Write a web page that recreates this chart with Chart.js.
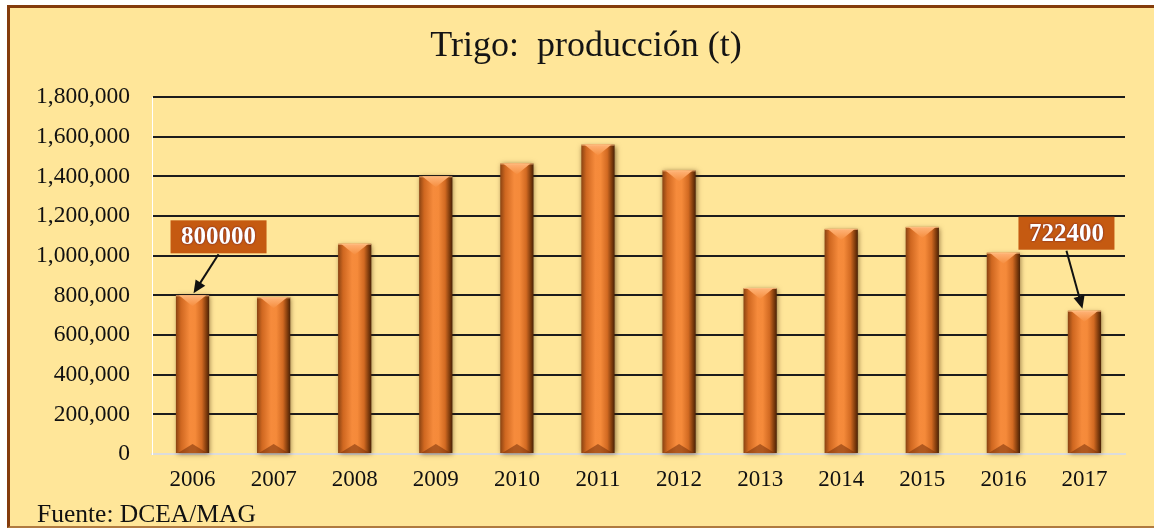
<!DOCTYPE html>
<html>
<head>
<meta charset="utf-8">
<script src="https://cdn.jsdelivr.net/npm/chart.js@4"></script>
<style>
  body { margin: 0; background: #fff; }
  #frame {
    position: absolute; left: 7px; top: 5px; width: 1160px; height: 518px;
    background: #FFE699; border-left: 3px solid #843C0C; border-top: 3px solid #843C0C;
    border-bottom: 2px solid #B07A40;
  }
  #wrap { position: absolute; left: 0; top: 0; width: 1154px; height: 529px; }
  #fuente {
    position: absolute; left: 37px; top: 501px;
    font: 25.5px "Liberation Serif", serif; color: #111; line-height: 1;
  }
</style>
</head>
<body>
<div id="frame"></div>
<div id="wrap"><canvas id="chart" width="1154" height="529"></canvas></div>
<div id="fuente">Fuente: DCEA/MAG</div>
<script>
const years = ['2006', '2007', '2008', '2009', '2010', '2011', '2012', '2013', '2014', '2015', '2016', '2017']
const production = [800000, 790000, 1060000, 1400000, 1465000, 1560000, 1430000, 837000, 1135000, 1145000, 1015000, 722400]
const yTicks = [0, 200000, 400000, 600000, 800000, 1000000, 1200000, 1400000, 1600000, 1800000]
// indexes of the bars that get a callout box
const callouts = [0, 11]
const chartTitle = 'Trigo:  producción (t)'

const serif = '"Liberation Serif", "Times New Roman", serif'

// title sits a bit right of the canvas centre, so draw it here
const titleText = {
    id: 'titleText',
    afterDraw(chart) {
        const ctx = chart.ctx
        ctx.save()
        ctx.font = '36px ' + serif
        ctx.fillStyle = '#141414'
        ctx.textAlign = 'center'
        ctx.textBaseline = 'alphabetic'
        ctx.fillText(chartTitle, 586, 56)
        ctx.restore()
    }
}

// cylinder-like bars, drawn on the elements the bar controller lays out
const barLook = {
    id: 'barLook',
    afterDatasetsDraw(chart) {
        const ctx = chart.ctx
        const meta = chart.getDatasetMeta(0)
        meta.data.forEach((bar) => {
            const w = bar.width
            const left = bar.x - w / 2
            const right = bar.x + w / 2
            const top = bar.y
            const bottom = bar.base

            ctx.save()
            ctx.shadowColor = 'rgba(70, 35, 0, 0.6)'
            ctx.shadowBlur = 5
            ctx.shadowOffsetX = 1
            ctx.shadowOffsetY = 1
            const g = ctx.createLinearGradient(left, 0, right, 0)
            g.addColorStop(0, '#8a4312')
            g.addColorStop(0.15, '#cf6720')
            g.addColorStop(0.42, '#f68b3c')
            g.addColorStop(0.58, '#f58a3a')
            g.addColorStop(0.78, '#d26a22')
            g.addColorStop(0.92, '#7c3a0c')
            g.addColorStop(1, '#4a2206')
            ctx.fillStyle = g
            ctx.fillRect(left, top, w, bottom - top)
            ctx.restore()

            // top bevel
            ctx.save()
            const tg = ctx.createLinearGradient(0, top, 0, top + 12)
            tg.addColorStop(0, '#ffb478')
            tg.addColorStop(1, '#f58a3a')
            ctx.fillStyle = tg
            ctx.beginPath()
            ctx.moveTo(left + 3, top)
            ctx.lineTo(right - 3, top)
            ctx.lineTo(bar.x, top + 11)
            ctx.closePath()
            ctx.fill()
            ctx.strokeStyle = 'rgba(255, 190, 130, 0.8)'
            ctx.lineWidth = 1
            ctx.beginPath()
            ctx.moveTo(left, top + 0.5)
            ctx.lineTo(right, top + 0.5)
            ctx.stroke()

            // bottom bevel
            ctx.fillStyle = 'rgba(120, 50, 10, 0.55)'
            ctx.beginPath()
            ctx.moveTo(left + 2, bottom)
            ctx.lineTo(right - 2, bottom)
            ctx.lineTo(bar.x, bottom - 9)
            ctx.closePath()
            ctx.fill()
            ctx.restore()
        })
    }
}

// value boxes with arrows pointing to the bar tops
const calloutBoxes = {
    id: 'calloutBoxes',
    afterDatasetsDraw(chart) {
        const ctx = chart.ctx
        const meta = chart.getDatasetMeta(0)
        const place = { 0: { dx: 26, dy: -75, tipDx: 1 }, 11: { dx: -18, dy: -94, tipDx: -2 } }
        callouts.forEach((i) => {
            const bar = meta.data[i]
            const p = place[i]
            const text = String(production[i])
            const bw = 96
            const bh = 33
            const cx = bar.x + p.dx
            const bt = bar.y + p.dy

            ctx.save()
            ctx.fillStyle = '#C55A11'
            ctx.fillRect(cx - bw / 2, bt, bw, bh)

            ctx.font = 'bold 25px ' + serif
            ctx.textAlign = 'center'
            ctx.textBaseline = 'middle'
            ctx.shadowColor = 'rgba(70, 0, 60, 0.8)'
            ctx.shadowBlur = 2
            ctx.fillStyle = '#ffffff'
            ctx.fillText(text, cx, bt + bh / 2 + 1)
            ctx.restore()

            // arrow
            const x0 = cx
            const y0 = bt + bh + 1
            const x1 = bar.x + p.tipDx
            const y1 = bar.y - 2
            const ang = Math.atan2(y1 - y0, x1 - x0)
            ctx.save()
            ctx.strokeStyle = '#111'
            ctx.fillStyle = '#111'
            ctx.lineWidth = 2
            ctx.beginPath()
            ctx.moveTo(x0, y0)
            ctx.lineTo(x1 - 10 * Math.cos(ang), y1 - 10 * Math.sin(ang))
            ctx.stroke()
            ctx.beginPath()
            ctx.moveTo(x1, y1)
            ctx.lineTo(x1 - 14 * Math.cos(ang - 0.42), y1 - 14 * Math.sin(ang - 0.42))
            ctx.lineTo(x1 - 14 * Math.cos(ang + 0.42), y1 - 14 * Math.sin(ang + 0.42))
            ctx.closePath()
            ctx.fill()
            ctx.restore()
        })
    }
}

new Chart(document.getElementById('chart'), {
    type: 'bar',
    data: {
        labels: years,
        datasets: [{
            label: 'Producción (t)',
            data: production,
            backgroundColor: 'rgba(0,0,0,0)',
            borderWidth: 0,
            barPercentage: 0.41,
            categoryPercentage: 1
        }]
    },
    options: {
        responsive: false,
        animation: false,
        layout: { padding: { left: 0, right: 29, top: 97, bottom: 0 } },
        plugins: {
            legend: { display: false },
            tooltip: { enabled: false },
            title: { display: false }
        },
        scales: {
            x: {
                grid: { display: false, drawTicks: false },
                border: { display: true, color: '#dcdcdc', width: 2 },
                ticks: { color: '#111', font: { family: serif, size: 23 }, padding: 12 },
                afterFit(scale) { scale.height = 75 }
            },
            y: {
                min: 0,
                max: 1800000,
                afterBuildTicks(scale) { scale.ticks = yTicks.map((v) => ({ value: v })) },
                grid: {
                    drawTicks: false,
                    color: (c) => c.tick && c.tick.value === 0 ? '#dcdcdc' : '#1c1c1c',
                    lineWidth: 2
                },
                border: { display: true, color: '#ffffff', width: 1 },
                ticks: {
                    color: '#111',
                    font: { family: serif, size: 23.5 },
                    padding: 22,
                    callback: (v) => Number(v).toLocaleString('en-US')
                },
                afterFit(scale) { scale.width = 152 }
            }
        }
    },
    plugins: [titleText, barLook, calloutBoxes]
})
</script>
</body>
</html>
